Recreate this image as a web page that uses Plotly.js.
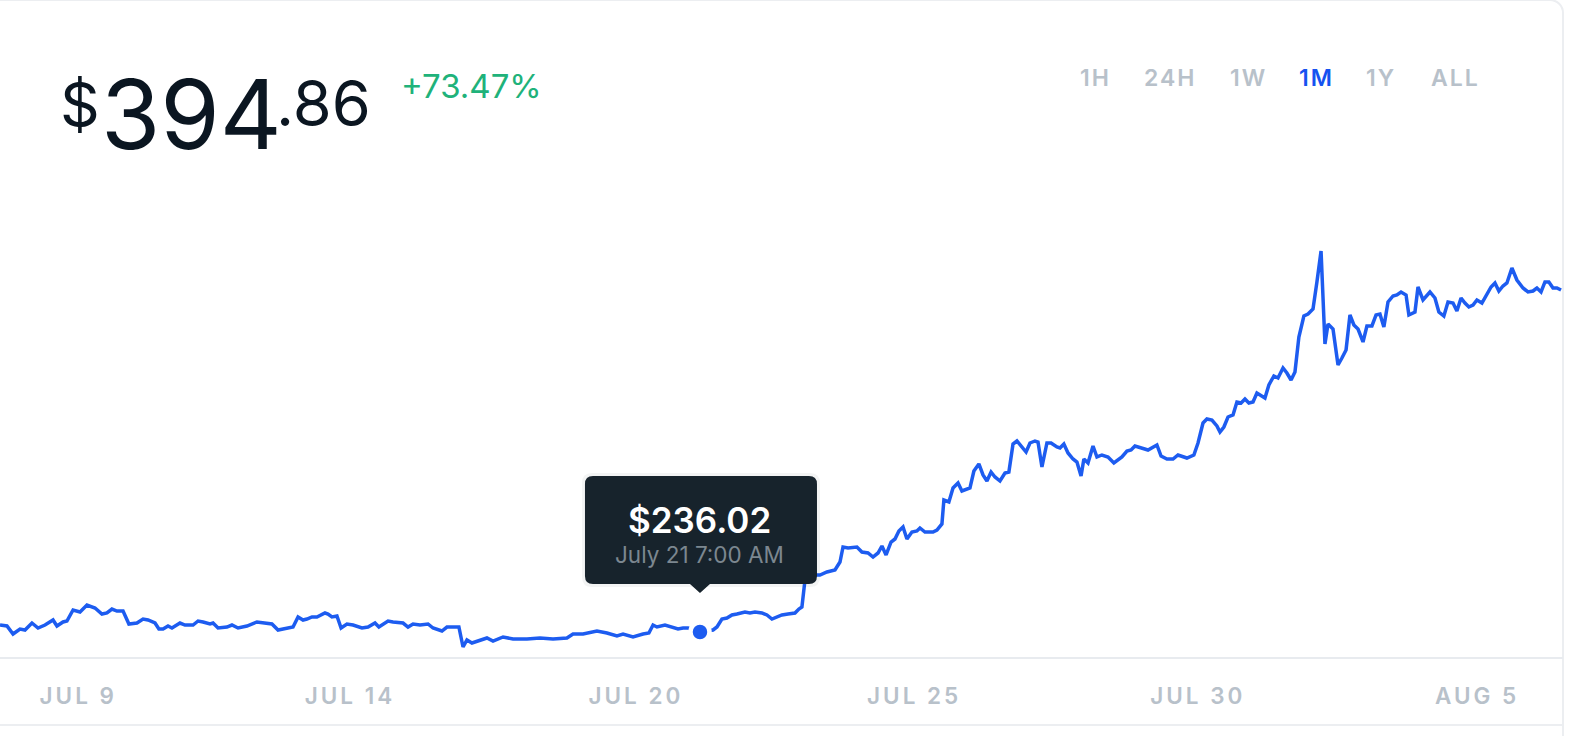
<!DOCTYPE html>
<html>
<head>
<meta charset="utf-8">
<script src="https://cdn.plot.ly/plotly-3.0.1.min.js"></script>
<style>
  html, body { margin:0; padding:0; background:#ffffff; overflow:hidden; }
  #card { position:absolute; left:-20px; top:-1px; width:1584px; height:800px; box-sizing:border-box;
          border:2px solid #eceef1; border-radius:14px; z-index:0; }
  #sep { position:absolute; left:0; top:724px; width:1563px; height:2px; background:#eceef1; z-index:0; }
  #chart { position:absolute; left:0; top:0; width:1574px; height:736px; z-index:1; }
  .xtick text { letter-spacing:3px; }
</style>
</head>
<body>
<div id="card"></div>
<div id="sep"></div>
<div id="chart"></div>
<script>
// ---- data ----
// hours since the start of the 1M window
const hours = [0,3.2,6.0,9.2,11.5,14.7,17.5,20.7,24.4,26.2,29.0,30.8,33.6,36.8,40.0,43.7,46.9,49.2,51.5,53.8,56.6,59.3,63.0,65.8,68.1,71.3,73.1,75.0,77.3,79.1,82.8,85.1,88.8,91.1,93.4,96.6,98.0,100.3,104.4,106.7,109.5,113.6,118.2,122.8,125.1,127.9,130.2,134.8,137.1,139.4,141.2,143.5,145.8,149.5,150.9,152.7,155.0,156.9,159.6,162.4,166.5,169.3,172.5,174.3,178.5,180.8,185.4,187.7,190.0,193.2,196.9,199.2,203.3,205.6,209.3,211.1,213.0,214.8,217.1,220.8,224.0,226.8,231.4,236.0,242.4,248.4,254.4,260.8,263.6,268.2,274.6,279.2,283.8,286.6,291.2,295.8,298.5,300.4,302.2,305.9,309.6,311.9,314.2,316.5,322,328.0,329.8,332.1,334.4,336.7,339.0,342.7,345.0,347.3,350.5,352.8,355.1,357.4,359.7,362.5,365.7,367.5,368.9,370.3,372.6,377.2,380.4,384.1,386.4,387.8,390.1,394.2,396.5,399.3,401.6,403.9,405.7,407.6,409.9,411.7,413.5,415.4,417.2,419.5,421.8,423.2,425.5,429.2,431.0,433.3,434.2,436.5,438.4,440.7,442.5,446.2,448.0,450.3,452.2,454.0,455.9,457.7,460.0,462.3,464.1,466.0,467.8,472.0,473.8,476.1,477.5,479.3,481.6,483.5,486.2,487.6,489.4,491.3,493.6,495.4,497.3,498.6,500.5,502.8,504.6,506.9,509.7,512.4,516.1,518.4,520.3,522.1,525.3,528.1,532.2,534.1,536.8,539.6,541.9,546.0,549.2,551.1,553.4,555.2,557.5,559.8,561.2,563.0,564.9,567.2,569.0,570.9,572.7,574.5,576.4,578.2,581.9,583.7,586.0,587.9,590.2,592.0,593.9,595.7,597.5,599.8,601.7,604.0,605.8,607.7,609.5,610.9,613.2,615.5,617.3,619.2,621.0,622.8,624.7,627.0,628.8,631.1,633.0,634.8,636.6,638.5,640.8,642.6,644.5,646.8,648.1,650.9,652.3,654.6,657.8,660.1,661.9,664.2,666.1,668.4,670.2,672.1,673.9,675.7,677.6,679.4,681.7,683.6,685.9,687.7,689.5,691.4,693.2,695.5,697.8,700.6,702.9,705.2,707.0,708.9,710.7,712.5,714.4,716.2,718.1];
// price in USD
const prices = [239.27,238.81,235.09,237.41,236.95,240.20,237.88,239.27,241.59,238.81,240.67,241.13,246.24,245.31,248.56,247.17,244.38,244.85,246.70,245.77,245.77,239.74,240.20,242.06,241.59,240.20,237.41,237.41,238.81,237.88,240.20,239.27,239.27,241.13,240.67,239.74,240.20,237.88,238.34,239.27,237.88,238.81,240.67,240.20,239.74,236.95,237.41,238.34,242.99,241.59,242.06,242.99,242.99,244.85,244.38,242.99,243.45,237.88,239.74,239.27,237.88,238.34,240.20,238.34,241.13,240.67,240.20,238.34,239.74,239.27,239.74,237.88,236.48,238.34,238.34,238.34,229.05,232.30,230.91,232.30,233.23,231.84,233.70,232.77,232.77,233.23,232.77,233.23,235.09,235.09,236.48,235.56,234.16,235.09,233.70,235.09,235.56,239.27,238.34,239.27,237.88,237.41,237.88,237.88,236.02,236.95,238.34,242.06,242.52,243.92,244.38,245.31,244.85,245.31,244.85,243.92,242.06,242.99,243.92,244.38,244.85,246.70,247.63,260.17,262.50,262.50,263.89,264.82,268.54,275.50,275.04,275.50,273.18,272.72,270.86,272.72,275.97,271.79,277.83,279.22,282.93,284.79,279.22,282.47,282.93,284.33,282.47,282.47,283.40,286.19,297.33,296.41,302.91,305.23,301.51,302.91,310.80,314.06,308.95,306.16,310.34,308.02,306.16,309.88,310.34,323.35,324.74,319.63,323.81,324.74,324.28,312.66,323.81,323.81,321.95,321.49,323.35,319.17,316.38,314.99,308.48,316.38,314.52,322.42,317.31,318.24,317.31,314.52,317.31,320.09,320.56,322.42,321.49,320.56,322.88,317.77,316.38,316.38,318.24,316.84,318.24,323.81,333.10,334.96,334.49,331.71,328.92,331.24,335.89,336.82,342.86,342.39,344.25,342.39,342.86,347.04,344.71,350.75,354.93,354.00,358.65,356.33,353.07,356.79,373.05,382.80,383.73,386.05,398.60,413.00,369.80,379.09,376.76,360.04,363.29,367.01,383.27,378.62,376.76,370.73,378.16,378.16,383.27,383.73,377.69,389.31,392.09,392.56,393.95,392.56,383.27,384.66,396.27,390.23,393.95,391.16,384.66,382.80,389.31,388.84,385.13,391.16,388.84,386.98,387.91,390.23,388.84,392.56,396.27,398.13,394.41,396.74,398.13,405.10,399.52,395.81,393.95,394.41,395.81,393.95,398.60,398.60,395.81,395.81,394.86];

const tickHours  = [36, 161, 292.5, 420.5, 551, 679.5];
const tickLabels = ['JUL 9', 'JUL 14', 'JUL 20', 'JUL 25', 'JUL 30', 'AUG 5'];
const rangeTabs  = ['1H', '24H', '1W', '1M', '1Y', 'ALL'];
const activeTab  = '1M';
const changeText = '+73.47%';
const hoverHour  = 322;
const hoverLabel = 'July 21 7:00 AM';

// ---- derived ----
const hoverIdx = hours.indexOf(hoverHour);
const hoverPrice = prices[hoverIdx];
const lastPrice = prices[prices.length - 1];
const intPart = Math.floor(lastPrice).toString();
const decPart = '.' + lastPrice.toFixed(2).split('.')[1];

const BLUE = '#1d5cf0';
const GRAY = '#b8c1ca';
const FONT = 'Inter, "Open Sans", sans-serif';

const lineTrace = {
  x: hours, y: prices, type: 'scatter', mode: 'lines',
  line: { color: BLUE, width: 3.5, shape: 'linear' },
  hoverinfo: 'skip'
};
const dotTrace = {
  x: [hours[hoverIdx]], y: [hoverPrice], type: 'scatter', mode: 'markers',
  marker: { color: BLUE, size: 19, line: { color: '#ffffff', width: 4.5 } },
  hoverinfo: 'skip', cliponaxis: false
};

const PT = 180; // plot top in px
function headerAnn(text, xs, ycenter, size, color, weight, anchor) {
  return { text: text, xref: 'paper', yref: 'paper', x: 0, y: 1, xanchor: anchor || 'left', yanchor: 'middle',
           xshift: xs, yshift: PT - ycenter, showarrow: false,
           font: { family: FONT, size: size, color: color, weight: weight || 400 } };
}

const tabX = [1095, 1170, 1248, 1316, 1381, 1455];
const annotations = [
  headerAnn('$', 58, 104, 62, '#0b1621', 400),
  headerAnn(intPart, 99, 114, 96, '#0b1621', 400),
  headerAnn(decPart, 274, 103, 63, '#0b1621', 400),
  headerAnn(changeText, 399, 86, 33, '#20b27a', 400)
];
rangeTabs.forEach((t, i) => {
  annotations.push(headerAnn(t, tabX[i], 78, 23, t === activeTab ? '#1652f0' : GRAY, 600, 'center'));
});
annotations.push({
  text: '$' + hoverPrice.toFixed(2), xref: 'x', yref: 'y', x: hours[hoverIdx], y: hoverPrice,
  xanchor: 'center', yanchor: 'middle', yshift: 112, showarrow: false,
  font: { family: FONT, size: 35, color: '#ffffff', weight: 600 }
});
annotations.push({
  text: hoverLabel, xref: 'x', yref: 'y', x: hours[hoverIdx], y: hoverPrice,
  xanchor: 'center', yanchor: 'middle', yshift: 78, showarrow: false,
  font: { family: FONT, size: 22.5, color: '#7c8790', weight: 400 }
});

const tipPath = 'M -107,48 L -10,48 L 0,39 L 10,48 L 109,48 Q 117,48 117,56 L 117,148 Q 117,156 109,156 L -107,156 Q -115,156 -115,148 L -115,56 Q -115,48 -107,48 Z';
const shadowPath = 'M -108,45 L 110,45 Q 120,45 120,55 L 120,149 Q 120,159 110,159 L -108,159 Q -118,159 -118,149 L -118,55 Q -118,45 -108,45 Z';
const shapes = [
  { type: 'path', xref: 'x', yref: 'y', xsizemode: 'pixel', ysizemode: 'pixel',
    xanchor: hours[hoverIdx], yanchor: hoverPrice, path: shadowPath,
    fillcolor: 'rgba(20,30,40,0.05)', line: { width: 0 }, layer: 'above' },
  { type: 'path', xref: 'x', yref: 'y', xsizemode: 'pixel', ysizemode: 'pixel',
    xanchor: hours[hoverIdx], yanchor: hoverPrice, path: tipPath,
    fillcolor: '#17232c', line: { width: 0 }, layer: 'above' }
];

const layout = {
  width: 1574, height: 736,
  margin: { l: 0, r: 11, t: PT, b: 79, pad: 0 },
  paper_bgcolor: 'rgba(0,0,0,0)', plot_bgcolor: 'rgba(0,0,0,0)',
  showlegend: false, hovermode: false,
  xaxis: {
    range: [0, 719], showgrid: false, zeroline: false,
    showline: true, linecolor: '#e8ebef', linewidth: 2,
    tickmode: 'array', tickvals: tickHours, ticktext: tickLabels,
    ticks: 'outside', ticklen: 18, tickcolor: 'rgba(0,0,0,0)',
    tickfont: { family: FONT, size: 22.5, color: GRAY, weight: 600 },
    fixedrange: true
  },
  yaxis: { range: [224.41, 445.97], visible: false, showgrid: false, zeroline: false, fixedrange: true },
  annotations: annotations,
  shapes: shapes
};

Plotly.newPlot('chart', [lineTrace, dotTrace], layout, { displayModeBar: false, staticPlot: true }).then(() => {
  document.querySelectorAll('.annotation-text').forEach(el => {
    if (rangeTabs.indexOf(el.textContent) >= 0) el.style.letterSpacing = '2px';
  });
});
</script>
</body>
</html>
